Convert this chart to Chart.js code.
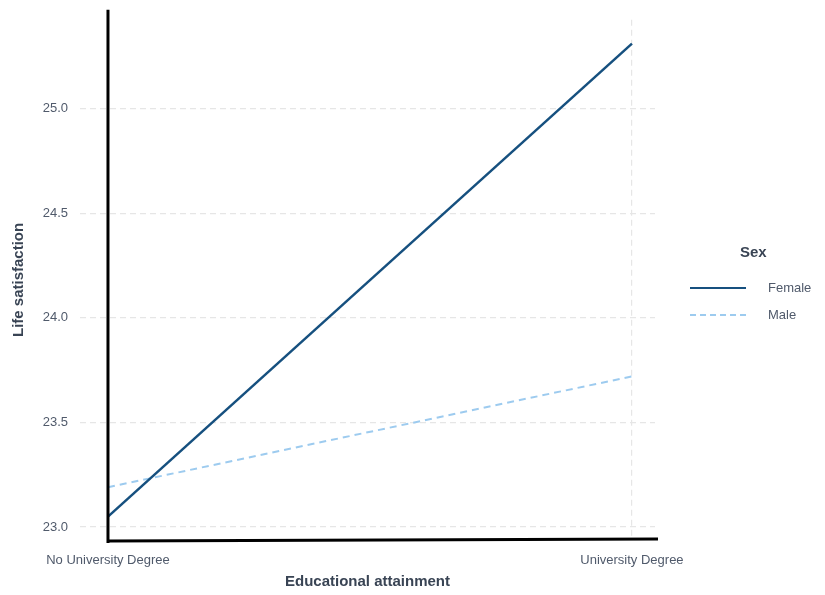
<!DOCTYPE html>
<html>
<head>
<meta charset="utf-8">
<script src="https://cdn.jsdelivr.net/npm/chart.js@4.4.0/dist/chart.umd.min.js"></script>
<style>
  body { margin: 0; background: #fff; font-family: 'Liberation Sans', Arial, sans-serif; }
  #wrap { position: relative; width: 825px; height: 595px; }
  #legend { position: absolute; left: 690px; top: 243px; color: #505a6b; font-size: 13px; }
  #legend .title { font-weight: bold; font-size: 15px; color: #394454; margin-left: 50px; margin-bottom: 14px; }
  #legend .row { display: flex; align-items: center; height: 27px; }
  #legend .swatch { width: 56px; margin-right: 22px; }
</style>
</head>
<body>
<div id="wrap">
  <canvas id="chart" width="825" height="595"></canvas>
  <div id="legend"></div>
</div>
<script>
// Data
const categories = ['No University Degree', 'University Degree']
const seriesNames = ['Female', 'Male']
const femaleValues = [23.05, 25.31]
const maleValues = [23.19, 23.72]
const yTicks = [23.0, 23.5, 24.0, 24.5, 25.0]

const femaleColor = '#16507f'
const maleColor = '#9dcbef'
const textColor = '#505a6b'
const titleColor = '#394454'

// Draw the heavy black axis lines the reference has
const axisLines = {
  id: 'axisLines',
  afterDatasetsDraw(chart) {
    const { ctx, chartArea, scales } = chart
    const x0 = scales.x.getPixelForValue(0)
    ctx.save()
    ctx.strokeStyle = '#000'
    ctx.lineWidth = 3
    ctx.beginPath()
    ctx.moveTo(x0, chartArea.top - 10)
    ctx.lineTo(x0, chartArea.bottom + 3)
    ctx.stroke()
    ctx.beginPath()
    ctx.moveTo(x0, chartArea.bottom + 1)
    ctx.lineTo(chartArea.right + 3, chartArea.bottom - 1)
    ctx.stroke()
    ctx.restore()
  }
}

new Chart(document.getElementById('chart'), {
  type: 'line',
  data: {
    datasets: [
      {
        label: seriesNames[0],
        data: femaleValues.map((v, i) => ({ x: i, y: v })),
        borderColor: femaleColor,
        borderWidth: 2.5,
        pointRadius: 0,
        fill: false
      },
      {
        label: seriesNames[1],
        data: maleValues.map((v, i) => ({ x: i, y: v })),
        borderColor: maleColor,
        borderWidth: 2,
        borderDash: [7, 5],
        pointRadius: 0,
        fill: false
      }
    ]
  },
  options: {
    responsive: false,
    animation: false,
    layout: { padding: { top: 18, right: 170, left: 0, bottom: 0 } },
    plugins: {
      legend: { display: false },
      tooltip: { enabled: false }
    },
    scales: {
      x: {
        type: 'linear',
        min: -0.0534,
        max: 1.044,
        afterBuildTicks: (axis) => { axis.ticks = [{ value: 0 }, { value: 1 }] },
        afterFit: (axis) => { axis.height = 55 },
        border: { display: false, dash: [6, 4] },
        grid: { color: '#e6e6e6', lineWidth: 1.2, drawTicks: false },
        ticks: {
          padding: 13,
          color: textColor,
          font: { family: 'Liberation Sans', size: 13 },
          callback: (v) => categories[Math.round(v)],
          maxRotation: 0
        },
        title: {
          display: true,
          text: 'Educational attainment',
          color: titleColor,
          font: { family: 'Liberation Sans', size: 15, weight: 'bold' },
          padding: { top: 6 }
        }
      },
      y: {
        min: 22.938,
        max: 25.424,
        afterBuildTicks: (axis) => { axis.ticks = yTicks.map((v) => ({ value: v })) },
        afterFit: (axis) => { axis.width = 80 },
        border: { display: false, dash: [6, 4] },
        grid: { color: '#e6e6e6', lineWidth: 1.2, drawTicks: false },
        ticks: {
          padding: 12,
          color: textColor,
          font: { family: 'Liberation Sans', size: 13 },
          callback: (v) => v.toFixed(1)
        },
        title: {
          display: true,
          text: 'Life satisfaction',
          color: titleColor,
          font: { family: 'Liberation Sans', size: 15, weight: 'bold' },
          padding: { top: 10, bottom: 0 }
        }
      }
    }
  },
  plugins: [axisLines]
})

// HTML legend
const legend = document.getElementById('legend')
legend.innerHTML =
  '<div class="title">Sex</div>' +
  seriesNames
    .map((name, i) => {
      const style = i === 0
        ? `border-top: 2.5px solid ${femaleColor}`
        : `border-top: 2px dashed ${maleColor}`
      return `<div class="row"><div class="swatch" style="${style}"></div><span>${name}</span></div>`
    })
    .join('')
</script>
</body>
</html>
